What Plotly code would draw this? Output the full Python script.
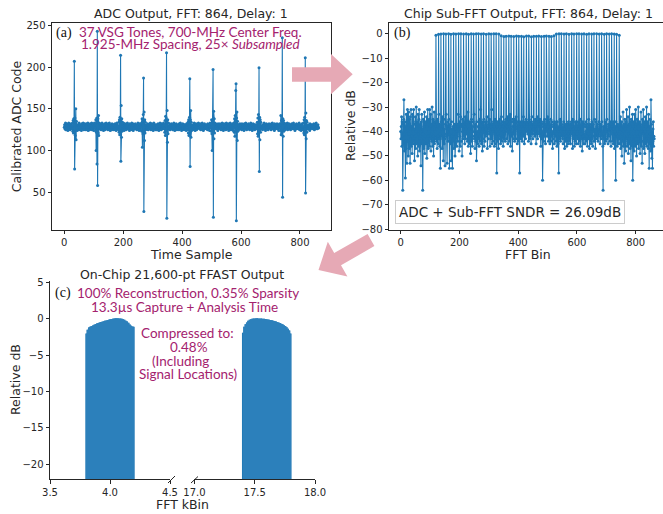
import plotly.graph_objects as go

W, H = 663, 514

# ---------------- Panel (a): ADC time samples ----------------
adc_noise = [
    128,131,126,129,133,125,130,127,132,126,129,131,124,130,128,133,126,129,127,131,125,130,128,132,
    127,129,125,131,128,126,132,129,124,130,127,133,128,125,131,129,126,130,132,127,124,129,131,126,
    130,128,133,125,129,127,131,126,130,128,124,132,129,126,131,128,133,127,125,130,129,132,126,128,
    131,125,129,132,127,130,126,128,133,124,130,129,127,131,125,128,132,126,129,130,127,133,125,129,
    126,130,128,131,124,129,133,127,130,125,132,128,126,131,129,127,130,124,128,132,126,129,131,127,
    129,132,126,128,131,125,130,127,133,129,126,130,128,124,131,127,129,132,125,130,128,126,133,129,
    128,126,131,129,125,132,127,130,128,133,126,129,124,131,128,130,127,125,132,129,126,131,128,130,
    125,131,128,127,132,129,126,130,124,128,133,127,131,126,129,130,125,128,132,127,129,131,126,128,
    132,127,129,125,130,128,131,126,129,133,127,124,130,128,132,126,129,131,125,128,130,127,133,126,
    129,130,126,131,128,124,132,129,127,130,125,131,128,133,126,129,127,132,124,130,128,126,131,129,
    127,132,129,126,130,128,125,131,129,127,133,126,130,128,124,132,127,129,131,125,128,130,126,133,
    130,126,128,132,125,129,131,127,128,130,126,133,129,124,131,127,130,128,126,132,129,125,130,128,
    126,129,131,127,133,128,125,130,127,132,129,126,131,128,124,130,133,127,129,126,131,128,125,130,
    131,128,125,130,129,126,132,128,130,124,127,131,129,133,126,128,130,125,132,129,127,130,126,131,
    128,133,127,129,126,131,128,124,130,132,126,129,127,131,128,125,133,129,126,130,128,132,127,125,
    129,126,130,128,132,127,129,131,125,128,130,126,133,129,127,124,131,128,130,126,132,129,125,128,
    130,128,126,131,129,125,132,127,130,128,133,126,129,131,124,128,130,127,132,126,129,128,131,125,
    127,131,129,126,130,128,124,132,129,127,131,125,130,128,133,126,129,131,127,125,130,128,132,129,
    126,129,132,128,125,130,127,131,128,133,126,129,124,130,128,132,127,125,131,129,126,130,128,133,
    131,127,128,130,126,132,129,125,131,128,127,130,133,126,129,128,124,131,127,130,132,126,129,128,
    128,130,126,129,131,127,125,132,128,130,126,129,131,124,128,133,127,130,125,129,131,128,126,130,
    125,129,131,127,128,133,126,130,129,125,132,128,127,131,126,129,130,124,132,128,126,131,129,127,
    132,128,127,130,125,129,131,126,133,128,130,127,124,129,132,126,128,131,127,130,125,129,133,128,
    129,126,130,128,132,127,124,131,129,126,130,133,128,125,131,127,129,130,126,132,128,124,130,129,
    127,131,128,126,129,130,132,125,128,131,127,129,126,133,130,128,125,131,129,127,132,126,128,130,
    130,128,125,132,127,129,126,131,130,128,124,132,129,127,130,126,133,128,131,125,129,130,127,128,
    126,132,129,128,131,125,130,127,129,133,126,128,131,127,124,130,128,132,126,129,131,128,125,130,
    131,127,130,126,128,132,129,125,131,127,130,128,133,126,129,131,125,128,130,127,132,129,126,128,
    128,125,131,129,127,130,133,128,126,129,131,124,130,128,132,127,129,126,131,128,125,130,129,132,
    129,131,127,130,126,128,125,132,129,127,133,128,130,126,129,131,127,124,132,128,130,126,129,131,
    127,129,132,126,130,128,131,127,124,130,129,132,126,128,131,125,130,128,133,127,129,126,130,128,
    130,126,128,131,129,125,132,128,130,127,126,131,129,133,125,128,130,127,129,132,126,128,131,127,
    125,130,129,127,132,128,126,131,128,130,133,126,129,127,131,124,128,130,126,129,132,128,127,130,
    131,128,126,130,127,133,129,125,130,128,131,127,124,130,129,132,126,128,131,127,130,125,129,128,
    128,132,129,126,131,127,130,128,125,133,129,126,130,128,127,131,129,124,132,128,126,130,131,127,
    129,127,131,128,126,130,128,132,129,125,131,127,130,126,129,133,128,127,130,126,129,131,128,127,
]
# burst around each pulse: 17 samples starting 8 samples before the pulse peak
spike_centers = [34, 112, 191, 269, 347, 426, 505, 583, 661, 740, 818]
spike_bursts = [
    [130,126,133,123,136,121,138,131,207,78,139,118,134,150,113,135,125],
    [127,132,124,137,100,122,139,84,243,58,138,121,142,118,133,126,130],
    [129,125,134,122,137,119,140,127,214,87,154,116,138,123,134,126,131],
    [128,133,123,138,104,135,120,143,187,27,146,112,137,121,134,125,130],
    [126,131,122,136,118,141,124,139,217,19,148,110,137,120,133,127,129],
    [130,125,134,121,137,118,129,140,186,81,137,148,116,134,124,131,127],
    [128,132,123,137,120,100,136,125,197,20,147,114,138,121,133,126,130],
    [127,133,122,138,117,142,124,172,180,16,139,146,112,135,123,131,128],
    [131,126,134,120,139,117,143,124,199,75,140,113,137,122,134,127,129],
    [127,131,124,142,119,136,121,133,235,44,138,117,136,123,133,126,130],
    [129,125,133,121,137,119,140,126,211,49,145,114,136,122,134,127,130],
]

# ---------------- Panel (b): sub-FFT spectrum (dB) ----------------
fft_noise_db = [
    -40,-43,-38,-34,-46,-36,-42,-64,-37,-45,-35,-27,-41,-48,-36,-44,-59,-38,-47,-33,-40,-53,-37,-31,
    -44,-36,-50,-32,-41,-47,-35,-39,-53,-34,-43,-31,-46,-38,-42,-49,-33,-40,-45,-36,-31,-44,-39,-52,
    -37,-42,-34,-47,-40,-30,-45,-38,-43,-36,-50,-33,-41,-46,-35,-31,-48,-39,-44,-37,-42,-54,-36,-40,
    -33,-45,-39,-64,-41,-35,-47,-38,-43,-32,-49,-37,-42,-36,-45,-40,-34,-51,-38,-44,-31,-42,-47,-36,
    -40,-35,-46,-31,-43,-38,-33,-48,-41,-37,-44,-30,-39,-46,-35,-42,-50,-37,-32,-45,-40,-36,-43,-38,
    -41,-36,-44,-39,-47,-35,-42,-38,-45,-40,-33,-43,-37,-46,-41,-55,-38,-44,-36,-42,-39,-47,-34,-43,
    -38,-52,-40,-35,-45,-39,-43,-54,-37,-41,-46,-33,-42,-38,-53,-40,-36,-44,-39,-47,-35,-41,-55,-38,
    -43,-37,-45,-40,-52,-36,-42,-39,-55,-44,-38,-41,-35,-47,-40,-43,-37,-50,-39,-45,-36,-42,-40,-46,
    -37,-41,-44,-38,-33,-45,-40,-48,-36,-42,-39,-46,-34,-41,-38,-44,-37,-50,-40,-35,-43,-39,-47,-36,
    -42,-38,-45,-40,-34,-43,-39,-47,-37,-41,-36,-44,-40,-32,-46,-38,-42,-39,-45,-36,-43,-40,-49,-37,
    -41,-35,-44,-39,-46,-38,-42,-36,-45,-40,-33,-43,-38,-47,-41,-37,-44,-39,-52,-36,-42,-40,-45,-38,
    -43,-37,-40,-46,-35,-42,-39,-44,-31,-41,-38,-45,-40,-36,-48,-39,-43,-37,-42,-35,-46,-40,-38,-44,
    -36,-42,-39,-45,-37,-41,-34,-47,-40,-38,-43,-36,-44,-39,-41,-35,-46,-40,-37,-43,-38,-42,-31,-45,
    -39,-37,-44,-40,-36,-42,-38,-46,-41,-35,-43,-39,-45,-37,-40,-57,-38,-44,-36,-41,-39,-47,-37,-42,
    -40,-35,-43,-38,-45,-37,-41,-34,-44,-39,-36,-42,-38,-46,-40,-33,-43,-37,-41,-36,-44,-39,-35,-42,
    -38,-43,-36,-40,-34,-45,-39,-37,-42,-35,-44,-38,-41,-33,-46,-39,-37,-42,-36,-40,-48,-38,-35,-43,
    -39,-36,-41,-37,-44,-35,-40,-38,-43,-34,-42,-39,-36,-45,-38,-41,-37,-44,-35,-40,-38,-57,-36,-42,
    -40,-37,-43,-35,-41,-38,-44,-36,-39,-42,-34,-40,-37,-45,-38,-41,-36,-43,-39,-35,-42,-38,-40,-37,
    -39,-41,-36,-44,-38,-40,-35,-43,-37,-42,-39,-36,-45,-38,-41,-34,-40,-37,-43,-39,-36,-44,-38,-41,
    -37,-42,-35,-40,-38,-45,-36,-41,-39,-34,-43,-38,-40,-36,-44,-37,-41,-39,-35,-42,-38,-46,-36,-40,
    -43,-38,-41,-60,-37,-40,-36,-44,-39,-42,-35,-41,-38,-45,-37,-40,-43,-36,-39,-42,-34,-41,-38,-44,
    -36,-40,-43,-37,-45,-39,-41,-35,-44,-38,-42,-36,-40,-47,-38,-43,-37,-41,-39,-45,-36,-42,-40,-38,
    -44,-37,-41,-39,-46,-36,-42,-38,-45,-40,-57,-37,-43,-39,-41,-35,-44,-38,-40,-46,-37,-42,-39,-43,
    -38,-45,-40,-36,-43,-39,-47,-37,-41,-44,-38,-42,-35,-46,-40,-37,-43,-39,-45,-36,-41,-38,-44,-40,
    -42,-37,-45,-39,-41,-36,-44,-40,-38,-47,-35,-43,-39,-41,-37,-46,-40,-38,-44,-36,-42,-39,-45,-37,
    -41,-38,-43,-40,-36,-45,-39,-42,-37,-44,-40,-35,-46,-38,-41,-43,-39,-37,-48,-40,-36,-42,-38,-45,
    -39,-43,-37,-41,-45,-38,-40,-36,-44,-39,-42,-37,-46,-40,-38,-43,-35,-41,-39,-47,-37,-42,-40,-44,
    -38,-45,-41,-36,-43,-39,-46,-37,-42,-40,-38,-44,-35,-41,-39,-47,-36,-42,-40,-45,-38,-43,-37,-41,
    -44,-39,-42,-36,-47,-40,-38,-45,-41,-37,-43,-39,-50,-36,-42,-40,-46,-64,-38,-43,-41,-37,-45,-39,
    -42,-36,-44,-40,-38,-47,-35,-43,-39,-41,-45,-37,-42,-40,-48,-38,-44,-36,-41,-39,-46,-37,-43,-40,
    -38,-44,-41,-36,-45,-39,-42,-37,-47,-40,-43,-38,-60,-36,-41,-44,-39,-46,-37,-42,-40,-45,-38,-43,
    -41,-37,-45,-40,-34,-47,-39,-43,-36,-50,-41,-38,-44,-32,-46,-40,-37,-53,-42,-35,-45,-39,-48,-36,
    -43,-31,-40,-46,-38,-44,-34,-49,-41,-37,-45,-30,-42,-47,-36,-40,-52,-35,-43,-39,-46,-33,-60,-38,
    -44,-36,-41,-48,-33,-42,-39,-46,-31,-43,-37,-50,-40,-35,-45,-38,-42,-30,-47,-39,-44,-36,-41,-49,
    -37,-43,-32,-46,-40,-38,-53,-35,-44,-41,-31,-47,-39,-42,-36,-49,-40,-34,-45,-38,-43,-30,-46,-41,
    -36,-44,-39,-47,-33,-42,-55,-38,-45,-35,-41,-48,-27,-43,-37,-51,-40,-55,-44,-39,-36,-46,-42,-43,
]
tone_bins = [120,129,137,146,154,163,171,180,188,197,205,214,223,231,240,248,257,265,274,282,291,300,308,317,325,334,
             342,
             351,359,368,376,385,394,402,411,419,428,436,445,453,462,470,479,488,496,505,513,
             522,
             530,539,547,556,564,573,582,590,599,607,616,624,633,641,650,658,667,676,684,693,701,710,718,727,735,744]
tone_db = [-0.6,-0.2,-0.1,0,-0.1,0,-0.2,0,-0.1,0,0,-0.1,0,-0.2,0,-0.1,0,0,-0.1,0,-0.2,0,-0.1,0,0,-0.1,
           -0.8,
           -1.1,-1.0,-0.9,-1.0,-1.1,-0.9,-1.0,-1.0,-1.2,-0.9,-0.9,-1.2,-1.0,-1.0,-0.9,-1.1,-1.0,-0.9,-1.0,-1.1,
           -0.8,
           -0.1,0,0,-0.1,0,-0.2,0,-0.1,0,0,-0.1,0,-0.2,0,-0.1,0,0,-0.1,0,-0.2,0,-0.1,0,-0.1,-0.2,-0.6]
sndr_text = "ADC + Sub-FFT SNDR = 26.09dB"

# ---------------- Panel (c): FFAST output ----------------
kbin_low = [3.800,3.811,3.822,3.833,3.844,3.856,3.867,3.878,3.889,3.900,3.911,3.922,3.933,3.944,3.956,3.967,3.978,3.989,
            4.000,4.011,4.022,4.033,4.044,4.056,4.067,4.078,4.089,4.100,4.111,4.122,4.133,4.144,4.156,4.167,4.178,4.189,4.200]
db_low = [-2.0,-1.5,-1.2,-1.1,-1.0,-0.9,-0.8,-0.72,-0.65,-0.58,-0.52,-0.45,-0.4,-0.33,-0.28,-0.22,-0.17,-0.12,
          -0.07,-0.03,0.0,0.04,0.07,0.08,0.08,0.06,0.03,0.0,-0.06,-0.14,-0.25,-0.38,-0.55,-0.78,-0.95,-1.05,-1.1]
kbin_high = [17.400,17.411,17.422,17.433,17.444,17.456,17.467,17.478,17.489,17.500,17.511,17.522,17.533,17.544,17.556,17.567,17.578,17.589,
             17.600,17.611,17.622,17.633,17.644,17.656,17.667,17.678,17.689,17.700,17.711,17.722,17.733,17.744,17.756,17.767,17.778,17.789,17.800]
db_high = [-1.9,-1.1,-0.75,-0.5,-0.25,-0.12,-0.05,0.0,0.04,0.06,0.07,0.07,0.06,0.05,0.04,0.02,0.0,-0.02,
           -0.05,-0.08,-0.12,-0.16,-0.2,-0.25,-0.3,-0.36,-0.42,-0.5,-0.58,-0.66,-0.76,-0.88,-1.0,-1.15,-1.35,-1.6,-2.0]
bar_width_kbin = 0.0113

ticks_a_x = [0, 200, 400, 600, 800]
ticks_a_y = [50, 100, 150, 200, 250]
ticks_b_y = [0, -10, -20, -30, -40, -50, -60, -70, -80]
ticks_c_y = [5, 0, -5, -10, -15, -20]
ticks_c_low = [3.5, 4.0, 4.5]
ticks_c_high = [17.0, 17.5, 18.0]

# ---------------- assemble series ----------------
adc = list(adc_noise)
for s, burst in zip(spike_centers, spike_bursts):
    for j, v in enumerate(burst):
        adc[s - 8 + j] = v

fft = list(fft_noise_db)
for b, v in zip(tone_bins, tone_db):
    fft[b] = v

BLUE = "#1f77b4"
BLUE_FILL = "#2c80bb"
MAG = "#a4226e"
PINK = "#e6a9b5"
AX = "#262626"
Y3_MIN, Y3_MAX = -22.06, 5.27

def fx(p):
    return p / W

def fy(p):
    return 1 - p / H

fig = go.Figure()
fig.add_trace(go.Scatter(x=list(range(len(adc))), y=adc, mode="lines+markers",
                         line=dict(color=BLUE, width=1.1), marker=dict(color=BLUE, size=3),
                         xaxis="x", yaxis="y"))
fig.add_trace(go.Scatter(x=list(range(len(fft))), y=fft, mode="lines+markers",
                         line=dict(color=BLUE, width=1.1), marker=dict(color=BLUE, size=3),
                         xaxis="x2", yaxis="y2"))

# solid under-fill for each cluster (covers sub-pixel seams between the stems)
for xs, ys, xa in ((kbin_low, db_low, "x3"), (kbin_high, db_high, "x4")):
    fig.add_trace(go.Scatter(x=[xs[0]] + xs + [xs[-1]], y=[Y3_MIN] + ys + [Y3_MIN],
                             mode="lines", line=dict(width=0, shape="hvh"), fill="toself",
                             fillcolor=BLUE_FILL, xaxis=xa, yaxis="y3"))
    fig.add_trace(go.Bar(x=xs, y=[v - Y3_MIN for v in ys], base=Y3_MIN, width=bar_width_kbin,
                         marker=dict(color=BLUE, line=dict(width=0)), xaxis=xa, yaxis="y3"))

tickfont = dict(family="DejaVu Sans", size=10, color=AX)
common = dict(showgrid=False, zeroline=False, showline=True, linecolor=AX, linewidth=1, automargin=False,
              ticks="outside", ticklen=3.5, tickwidth=1, tickcolor=AX, tickfont=tickfont)

top_px, bot_px = 22.7, 229.5
fig.update_layout(
    width=W, height=H, margin=dict(l=0, r=0, t=0, b=0, autoexpand=False),
    paper_bgcolor="white", plot_bgcolor="white", showlegend=False, hovermode=False,
    xaxis=dict(domain=[fx(52), fx(331)], range=[-41.8, 905.3], anchor="y", mirror=True,
               tickvals=ticks_a_x, **common),
    yaxis=dict(domain=[fy(bot_px), fy(top_px)], range=[5.4, 253.1], anchor="x", mirror=True,
               tickvals=ticks_a_y, **common),
    xaxis2=dict(domain=[fx(389), 1.0], range=[-39.8, 893], anchor="y2", mirror=True,
                tickvals=ticks_a_x, **common),
    yaxis2=dict(domain=[fy(bot_px), fy(top_px)], range=[-80.1, 4.5], anchor="x2", mirror=True,
                tickvals=ticks_b_y, **common),
    xaxis3=dict(domain=[fx(50), fx(170)], range=[3.5, 4.5], anchor="y3",
                tickvals=ticks_c_low, ticktext=[f"{t:.1f}" for t in ticks_c_low], **common),
    xaxis4=dict(domain=[fx(194.4), fx(315)], range=[17.0, 18.0], anchor="y3",
                tickvals=ticks_c_high, ticktext=[f"{t:.1f}" for t in ticks_c_high], **common),
    yaxis3=dict(domain=[fy(479.3), fy(280.5)], range=[Y3_MIN, Y3_MAX], anchor="x3",
                tickvals=ticks_c_y, **common),
)

def txt(s, x, y, size, color=AX, family="DejaVu Sans", angle=0, **kw):
    d = dict(text=s, x=fx(x), y=fy(y), xref="paper", yref="paper", showarrow=False,
             font=dict(size=size, color=color, family=family), textangle=angle,
             xanchor="center", yanchor="middle")
    d.update(kw)
    return d

LATO = "Lato"
SERIF = "Liberation Serif"
MS = 13.5
ann = [
    txt("ADC Output, FFT: 864, Delay: 1", 191, 13.3, 12.5),
    txt("Chip Sub-FFT Output, FFT: 864, Delay: 1", 528, 13.3, 12.5),
    txt("On-Chip 21,600-pt FFAST Output", 182, 274, 12.5),
    txt("Calibrated ADC Code", 16.7, 126.5, 12.5, angle=-90),
    txt("Time Sample", 191.5, 254, 12.5),
    txt("Relative dB", 350, 126, 12.5, angle=-90),
    txt("FFT Bin", 527.7, 254, 12.5),
    txt("Relative dB", 15, 380, 12.5, angle=-90),
    txt("FFT kBin", 182, 504, 12.5),
    txt("(a)", 63.8, 33.3, 14, color="#111", family=SERIF),
    txt("(b)", 402.5, 33.3, 14, color="#111", family=SERIF),
    txt("(c)", 63, 292.7, 14, color="#111", family=SERIF),
    txt("37 VSG Tones, 700-MHz Center Freq.", 190.8, 31.7, MS, color=MAG, family=LATO),
    txt("1.925-MHz Spacing, 25\u00d7 <i>Subsampled</i>", 190.8, 44.3, MS, color=MAG, family=LATO),
    txt("100% Reconstruction, 0.35% Sparsity", 187.5, 293.3, MS, color=MAG, family=LATO),
    txt("13.3\u00b5s Capture + Analysis Time", 184.2, 306.7, MS, color=MAG, family=LATO),
    txt("Compressed to:", 187.5, 332.7, MS, color=MAG, family=LATO),
    txt("0.48%", 189, 347.3, MS, color=MAG, family=LATO),
    txt("(Including", 180.8, 361, MS, color=MAG, family=LATO),
    txt("Signal Locations)", 187.8, 374, MS, color=MAG, family=LATO),
    txt(sndr_text, 510, 212, 13.5, bgcolor="white", bordercolor="#cccccc", borderwidth=1, borderpad=3),
]
fig.update_layout(annotations=ann)

def path(points):
    return "M " + " L ".join(f"{fx(x):.5f},{fy(y):.5f}" for x, y in points) + " Z"

arrow1 = [(292, 67.3), (331, 67.3), (331, 54), (352.7, 74.3), (331, 94.3), (331, 81.7), (292, 81.7)]
arrow2 = [(374.4, 246.1), (341.0, 265.3), (347.4, 276.6), (318.5, 270), (327.8, 241.8), (334.2, 253.1), (367.6, 233.9)]
shapes = [
    dict(type="path", path=path(arrow1), xref="paper", yref="paper", fillcolor=PINK, line=dict(width=0), layer="above"),
    dict(type="path", path=path(arrow2), xref="paper", yref="paper", fillcolor=PINK, line=dict(width=0), layer="above"),
    dict(type="line", xref="paper", yref="paper", x0=fx(168), y0=fy(483), x1=fx(175), y1=fy(476),
         line=dict(color=AX, width=1)),
    dict(type="line", xref="paper", yref="paper", x0=fx(191), y0=fy(483), x1=fx(198), y1=fy(476.5),
         line=dict(color=AX, width=1)),
]
fig.update_layout(shapes=shapes)

fig.write_html("out.html", config={"displayModeBar": False, "staticPlot": True},
               post_script="document.body.style.margin='0px';document.body.style.overflow='hidden';")
